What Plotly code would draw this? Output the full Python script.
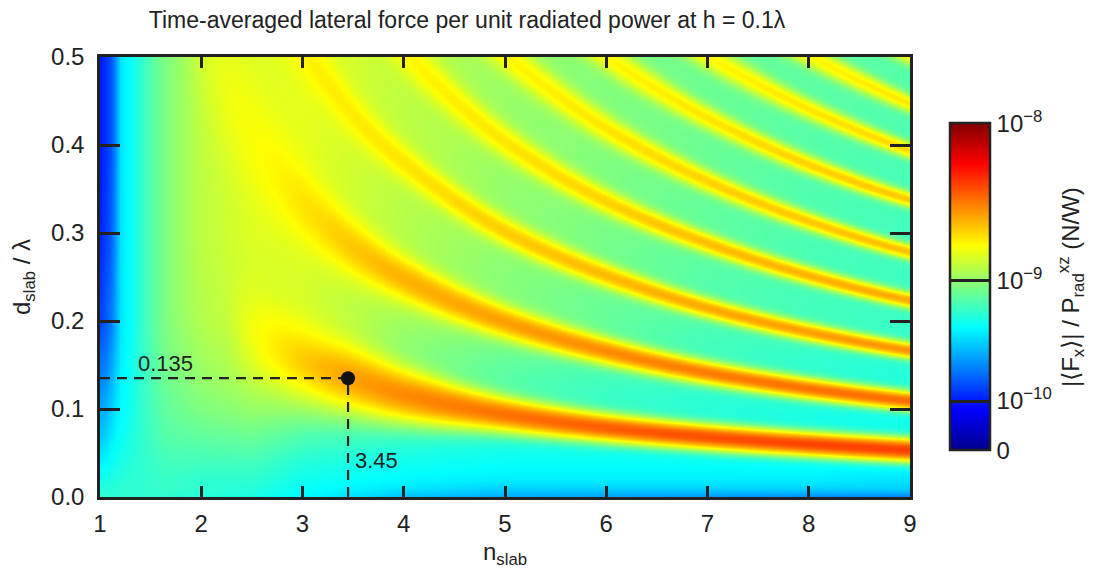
import numpy as np
import plotly.graph_objects as go

# ---------------- data ----------------
# |<Fx>| / P_rad  in units of 1e-10 N/W
# background level between the resonance ridges (rows: bg_n, columns: bg_d)
bg_n = [1.0, 1.05, 1.1, 1.15, 1.2, 1.3, 1.4, 1.65, 2.0, 2.5, 3.0, 4.0, 5.0, 6.0, 7.0, 8.0, 9.0]
bg_d = [0.0, 0.01, 0.02, 0.04, 0.07, 0.1, 0.15, 0.2, 0.3, 0.4, 0.5]
bg_F = [
    [5.95, 5.63, 5.05, 4.27, 3.38, 2.81, 2.03, 1.40, 1.09, 1.00, 1.00],
    [5.95, 5.63, 5.34, 4.52, 3.59, 2.99, 2.17, 1.64, 1.30, 1.19, 1.19],
    [5.95, 5.63, 5.34, 4.78, 4.03, 3.38, 2.64, 2.03, 1.64, 1.52, 1.52],
    [5.95, 5.63, 5.63, 5.05, 4.52, 4.03, 3.38, 2.81, 2.48, 2.32, 2.32],
    [5.95, 5.95, 5.63, 5.34, 4.78, 4.52, 4.27, 4.03, 4.03, 4.03, 4.03],
    [5.95, 5.95, 5.95, 5.63, 5.34, 5.05, 5.05, 4.78, 4.78, 4.78, 4.78],
    [5.95, 5.95, 5.95, 5.95, 5.95, 5.95, 5.95, 5.95, 5.95, 5.95, 5.95],
    [5.95, 6.27, 6.27, 6.62, 7.36, 7.75, 8.59, 9.05, 9.05, 9.05, 9.05],
    [5.63, 5.95, 5.95, 6.62, 7.75, 9.05, 10.5, 11.7, 12.3, 12.3, 12.3],
    [5.34, 5.63, 5.95, 6.62, 8.16, 10.0, 12.3, 13.5, 14.2, 14.2, 14.2],
    [4.52, 4.78, 5.05, 5.63, 6.98, 9.05, 12.3, 13.5, 14.2, 14.9, 14.9],
    [3.18, 4.03, 4.52, 5.05, 5.95, 7.36, 9.05, 10.5, 11.7, 12.3, 12.3],
    [2.81, 3.59, 4.27, 4.78, 5.63, 6.62, 7.75, 9.05, 9.8, 10.2, 10.2],
    [2.64, 3.59, 4.27, 4.78, 5.34, 6.10, 6.80, 7.90, 8.70, 9.10, 9.10],
    [2.48, 3.59, 4.27, 4.78, 5.20, 5.75, 6.35, 7.00, 7.70, 8.10, 8.10],
    [2.32, 3.59, 4.27, 4.78, 4.95, 5.45, 6.00, 6.60, 6.95, 7.30, 7.60],
    [2.17, 3.59, 4.03, 4.52, 4.95, 5.20, 5.70, 6.30, 6.60, 6.95, 7.30],
]

# resonance ridges: position (n, d), peak value (1e-10 N/W) and half-width in d
ridge_n = [
    [2.2, 2.5, 2.8, 3.1, 3.45, 4.0, 5.0, 6.0, 7.0, 8.0, 9.0],
    [1.8, 2.0, 2.3, 2.6, 3.0, 3.5, 4.0, 5.0, 6.0, 7.0, 8.0, 9.0],
    [2.5, 2.9, 3.2, 3.6, 4.0, 5.0, 6.0, 7.0, 8.0, 9.0],
    [3.5, 3.9, 4.2, 5.0, 6.0, 7.0, 8.0, 9.0],
    [4.5, 4.9, 5.2, 6.0, 7.0, 8.0, 9.0],
    [5.5, 5.9, 6.2, 7.0, 8.0, 9.0],
    [6.5, 6.9, 7.2, 8.0, 9.0],
    [7.5, 7.9, 8.2, 9.0],
    [8.5, 9.0],
]
ridge_d = [
    [0.209, 0.181, 0.1625, 0.148, 0.135, 0.116, 0.094, 0.079, 0.0685, 0.0605, 0.0537],
    [0.60, 0.52, 0.449, 0.388, 0.332, 0.283, 0.248, 0.199, 0.166, 0.1415, 0.1235, 0.1096],
    [0.62, 0.529, 0.477, 0.422, 0.380, 0.302, 0.252, 0.215, 0.1877, 0.1667],
    [0.582, 0.520, 0.483, 0.404, 0.336, 0.2886, 0.252, 0.2237],
    [0.558, 0.5125, 0.484, 0.419, 0.359, 0.3136, 0.2785],
    [0.545, 0.509, 0.485, 0.431, 0.378, 0.338],
    [0.539, 0.508, 0.488, 0.441, 0.394],
    [0.534, 0.508, 0.490, 0.447],
    [0.530, 0.502],
]
ridge_F = [
    [12.0, 15.7, 19.1, 22.6, 26.1, 29.4, 33.1, 36.5, 39.1, 41.0, 42.0],
    [10.0, 13.5, 15.7, 16.9, 19.1, 22.1, 24.3, 26.7, 29.4, 31.6, 33.1, 34.0],
    [17.3, 17.8, 18.2, 18.6, 19.1, 21.5, 23.6, 25.5, 26.9, 28.2],
    [17.3, 17.3, 17.8, 19.1, 21.0, 23.1, 24.3, 25.5],
    [17.3, 17.3, 17.8, 19.1, 21.0, 22.1, 23.1],
    [17.3, 17.3, 17.8, 19.1, 21.0, 22.1],
    [17.3, 17.3, 17.8, 19.1, 20.5],
    [17.3, 17.3, 17.8, 19.1],
    [16.9, 17.3],
]
ridge_w = [
    [0.04, 0.035, 0.031, 0.027, 0.024, 0.019, 0.012, 0.0095, 0.0085, 0.008, 0.0078],
    [0.06, 0.06, 0.055, 0.045, 0.030, 0.022, 0.017, 0.012, 0.0095, 0.008, 0.0072, 0.0066],
    [0.026, 0.024, 0.021, 0.017, 0.0145, 0.011, 0.0088, 0.0072, 0.0064, 0.0058],
    [0.019, 0.018, 0.017, 0.013, 0.0095, 0.0075, 0.0064, 0.0056],
    [0.016, 0.015, 0.014, 0.011, 0.0082, 0.0066, 0.0055],
    [0.013, 0.012, 0.0115, 0.0088, 0.007, 0.0056],
    [0.011, 0.0105, 0.010, 0.0078, 0.006],
    [0.0095, 0.009, 0.0085, 0.0065],
    [0.008, 0.0075],
]

# optimum marked on the map
opt_n = [3.45]
opt_d = [0.135]

x_ticks = [1, 2, 3, 4, 5, 6, 7, 8, 9]
y_ticks = [0.0, 0.1, 0.2, 0.3, 0.4, 0.5]
cbar_vals_e10 = [0.0, 1.0, 10.0, 100.0]
cbar_text = ["0", "10<sup>\u221210</sup>", "10<sup>\u22129</sup>", "10<sup>\u22128</sup>"]


# ---------------- build the map table ----------------
def pchip(xk, yk, x):
    """Shape-preserving piecewise-cubic interpolation through the read points."""
    xk = np.asarray(xk, float)
    yk = np.asarray(yk, float)
    if len(xk) < 3:
        return np.interp(x, xk, yk)
    h = np.diff(xk)
    delta = np.diff(yk) / h
    m = np.zeros_like(yk)
    for k in range(1, len(xk) - 1):
        if delta[k - 1] * delta[k] > 0:
            w1 = 2 * h[k] + h[k - 1]
            w2 = h[k] + 2 * h[k - 1]
            m[k] = (w1 + w2) / (w1 / delta[k - 1] + w2 / delta[k])
    m[0] = ((2 * h[0] + h[1]) * delta[0] - h[0] * delta[1]) / (h[0] + h[1])
    if m[0] * delta[0] <= 0:
        m[0] = 0.0
    m[-1] = ((2 * h[-1] + h[-2]) * delta[-1] - h[-1] * delta[-2]) / (h[-1] + h[-2])
    if m[-1] * delta[-1] <= 0:
        m[-1] = 0.0
    xc = np.clip(x, xk[0], xk[-1])
    i = np.clip(np.searchsorted(xk, xc) - 1, 0, len(xk) - 2)
    t = (xc - xk[i]) / h[i]
    h00 = 2 * t**3 - 3 * t**2 + 1
    h10 = t**3 - 2 * t**2 + t
    h01 = -2 * t**3 + 3 * t**2
    h11 = t**3 - t**2
    return h00 * yk[i] + h10 * h[i] * m[i] + h01 * yk[i + 1] + h11 * h[i] * m[i + 1]


N = np.linspace(1.0, 9.0, 481)
D = np.linspace(0.0, 0.5, 441)
bgF = np.array(bg_F)
cols = np.array([np.interp(D, bg_d, row) for row in bgF])
BG = np.array([np.interp(N, bg_n, cols[:, j]) for j in range(len(D))])
F = BG.copy()
for rn, rd, rf, rw in zip(ridge_n, ridge_d, ridge_F, ridge_w):
    inside = (N >= rn[0]) & (N <= rn[-1])
    dc = pchip(rn, rd, N)
    pk = pchip(rn, rf, N)
    w = pchip(rn, rw, N)
    base = np.array([np.interp(dc[i], D, BG[:, i]) for i in range(len(N))])
    amp = np.clip(pk - base, 0, None) * inside
    F += amp[None, :] * np.exp(-0.5 * ((D[:, None] - dc[None, :]) / w[None, :]) ** 2)

scale = np.log1p(100.0)
Z = np.round(np.log1p(F) / scale, 4)
cbar_pos = [float(np.log1p(v) / scale) for v in cbar_vals_e10]

jet = [[0.0, "rgb(0,0,140)"], [0.125, "rgb(0,0,255)"], [0.375, "rgb(0,255,255)"],
       [0.625, "rgb(255,255,0)"], [0.875, "rgb(255,0,0)"], [1.0, "rgb(128,0,0)"]]

ink = "#222222"
font_family = "Liberation Sans, Arial, sans-serif"

fig = go.Figure()
fig.add_trace(go.Heatmap(
    x=N, y=D, z=Z, zmin=0, zmax=1, colorscale=jet, zsmooth="best", hoverinfo="skip",
    colorbar=dict(
        thickness=40, thicknessmode="pixels", len=347, lenmode="pixels",
        x=1.037, xanchor="left", y=0.478, yanchor="middle",
        outlinewidth=2.5, outlinecolor=ink,
        ticks="inside", ticklen=40, tickwidth=2.5, tickcolor=ink,
        tickvals=cbar_pos, ticktext=cbar_text,
        tickfont=dict(size=24, color=ink, family=font_family),
    ),
))

# dashed guides to the optimum
fig.add_trace(go.Scatter(x=[1.0, opt_n[0]], y=[opt_d[0], opt_d[0]], mode="lines",
                         line=dict(color=ink, width=2.2, dash="10px,7px"), hoverinfo="skip",
                         showlegend=False))
fig.add_trace(go.Scatter(x=[opt_n[0], opt_n[0]], y=[0.0, opt_d[0]], mode="lines",
                         line=dict(color=ink, width=2.2, dash="10px,7px"), hoverinfo="skip",
                         showlegend=False))
fig.add_trace(go.Scatter(x=opt_n, y=opt_d, mode="markers",
                         marker=dict(color="#111111", size=14), hoverinfo="skip",
                         showlegend=False))

fig.add_annotation(x=1.36, y=opt_d[0], xref="x", yref="y", text=f"{opt_d[0]}",
                   showarrow=False, xanchor="left", yanchor="bottom",
                   font=dict(size=22, color=ink, family=font_family))
fig.add_annotation(x=opt_n[0] + 0.05, y=0.042, xref="x", yref="y", text=f"{opt_n[0]}",
                   showarrow=False, xanchor="left", yanchor="middle",
                   font=dict(size=22, color=ink, family=font_family))

fig.add_annotation(x=1.198, y=0.478, xref="paper", yref="paper", textangle=-90,
                   text="|\u27e8F<sub>x</sub>\u27e9| / P<sub>rad</sub><sup>xz</sup> (N/W)",
                   showarrow=False, xanchor="center", yanchor="middle",
                   font=dict(size=24, color=ink, family=font_family))

axis_common = dict(ticks="inside", tickwidth=2.5, tickcolor=ink, showline=True, linewidth=2.5,
                   linecolor=ink, mirror="ticks", showgrid=False, zeroline=False,
                   tickfont=dict(size=24, color=ink, family=font_family))

# the page body has an 8 px margin, so the figure is sized to fill the 1100x579 window exactly
fig.update_layout(
    width=1084, height=563,
    margin=dict(l=92, r=182, t=49, b=74, autoexpand=False),
    paper_bgcolor="white", plot_bgcolor="white",
    font=dict(family=font_family, color=ink),
    showlegend=False,
    title=dict(text="Time-averaged lateral force per unit radiated power at h = 0.1\u03bb",
               x=0.4234, xanchor="center", y=0.978, yanchor="middle",
               font=dict(size=23, color=ink, family=font_family)),
    xaxis=dict(range=[1, 9], tickvals=x_ticks, ticklen=11, ticklabelstandoff=3,
               title=dict(text="n<sub>slab</sub>", font=dict(size=24, color=ink), standoff=8),
               automargin=False, **axis_common),
    yaxis=dict(range=[0, 0.5], tickvals=y_ticks, tickformat=".1f", ticklen=20,
               ticklabelstandoff=8, automargin=False,
               title=dict(text="d<sub>slab</sub> / \u03bb", font=dict(size=24, color=ink), standoff=14),
               **axis_common),
)

fig.write_html("out.html")
